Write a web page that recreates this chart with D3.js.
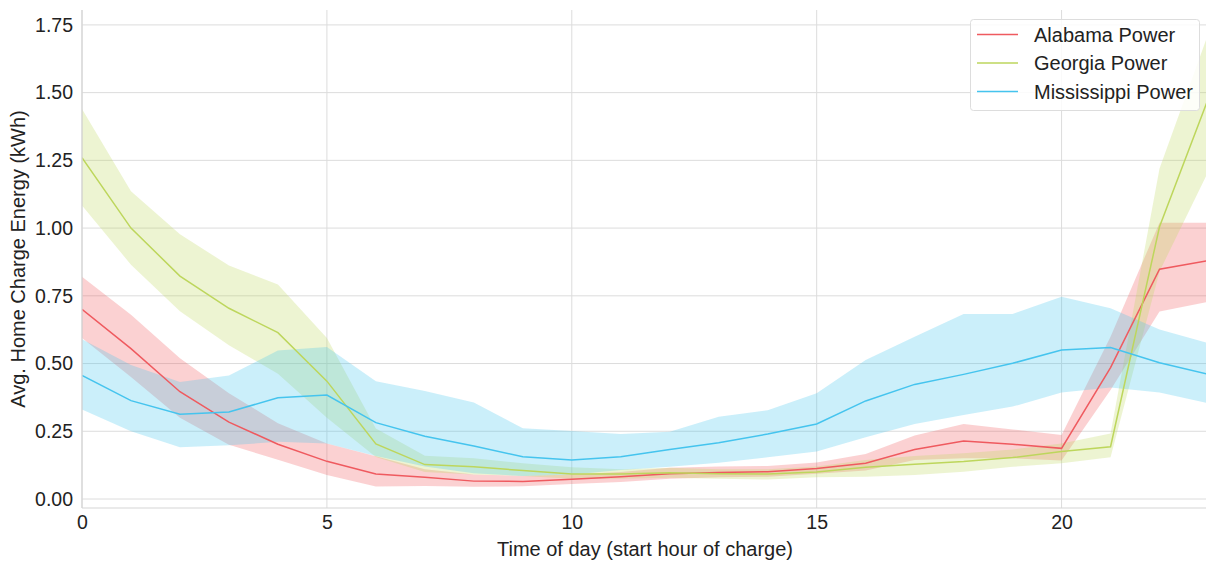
<!DOCTYPE html>
<html><head><meta charset="utf-8">
<script src="https://cdn.jsdelivr.net/npm/d3@7"></script>
<style>body{margin:0;background:#fff}svg{display:block}text{font-family:"Liberation Sans",Arial,sans-serif}</style>
</head><body><svg id="c" width="1206" height="561"></svg>
<script>
const hours = d3.range(0, 24);
const seriesNames = ["Alabama Power", "Georgia Power", "Mississippi Power"];
const alabamaMean  = [0.70,0.555,0.396,0.284,0.202,0.139,0.092,0.080,0.066,0.065,0.073,0.082,0.093,0.098,0.101,0.113,0.132,0.183,0.214,0.202,0.187,0.485,0.848,0.88];
const alabamaUpper = [0.82,0.68,0.52,0.39,0.28,0.205,0.158,0.11,0.09,0.085,0.09,0.10,0.115,0.12,0.122,0.135,0.166,0.234,0.277,0.257,0.236,0.599,1.02,1.02];
const alabamaLower = [0.594,0.45,0.30,0.20,0.145,0.089,0.046,0.048,0.045,0.047,0.055,0.063,0.075,0.08,0.082,0.093,0.105,0.144,0.150,0.150,0.142,0.402,0.692,0.728];
const georgiaMean  = [1.26,1.00,0.823,0.704,0.614,0.435,0.203,0.127,0.119,0.105,0.092,0.092,0.097,0.093,0.092,0.100,0.117,0.128,0.138,0.153,0.175,0.193,1.005,1.48];
const georgiaUpper = [1.44,1.136,0.977,0.862,0.792,0.594,0.26,0.16,0.15,0.132,0.117,0.11,0.115,0.11,0.11,0.12,0.144,0.159,0.169,0.183,0.205,0.242,1.22,1.72];
const georgiaLower = [1.083,0.865,0.693,0.568,0.462,0.300,0.155,0.10,0.09,0.085,0.075,0.075,0.078,0.075,0.072,0.08,0.082,0.089,0.101,0.119,0.132,0.154,0.84,1.21];
const missMean  = [0.456,0.363,0.313,0.321,0.374,0.384,0.282,0.232,0.196,0.156,0.144,0.156,0.183,0.208,0.240,0.277,0.362,0.423,0.460,0.501,0.550,0.559,0.503,0.460];
const missUpper = [0.59,0.495,0.432,0.456,0.548,0.561,0.435,0.399,0.356,0.261,0.251,0.240,0.248,0.304,0.328,0.39,0.513,0.599,0.683,0.683,0.747,0.704,0.626,0.575];
const missLower = [0.33,0.25,0.191,0.198,0.211,0.205,0.159,0.12,0.095,0.085,0.09,0.107,0.119,0.134,0.154,0.175,0.228,0.277,0.310,0.341,0.393,0.412,0.393,0.353];
const xTicks = [0, 5, 10, 15, 20];
const yTicks = [0, 0.25, 0.5, 0.75, 1.0, 1.25, 1.5, 1.75];
const colors = ["#ef5a5f", "#bdd65c", "#45c4ee"];

const series = [
  {name: seriesNames[0], mean: alabamaMean, upper: alabamaUpper, lower: alabamaLower, color: colors[0]},
  {name: seriesNames[1], mean: georgiaMean, upper: georgiaUpper, lower: georgiaLower, color: colors[1]},
  {name: seriesNames[2], mean: missMean, upper: missUpper, lower: missLower, color: colors[2]}
];

const svg = d3.select("#c");
const L = 82, R = 1208.5, T = 10, B = 508;
const FONT = '"Liberation Sans",Arial,sans-serif';
const x = d3.scaleLinear().domain([0, 23]).range([L, R]);
const y = d3.scaleLinear().domain([-0.0332, 1.805]).range([B, T]);

svg.append("defs").append("clipPath").attr("id","clip")
  .append("rect").attr("x",L).attr("y",T).attr("width",R-L).attr("height",B-T);

// grid
const grid = svg.append("g");
grid.selectAll(".gy").data(yTicks).join("line")
  .attr("x1",L).attr("x2",1206).attr("y1",d=>y(d)).attr("y2",d=>y(d))
  .attr("stroke","#dcdcdc").attr("stroke-width",1);
grid.selectAll(".gx").data(xTicks).join("line")
  .attr("y1",T).attr("y2",B).attr("x1",d=>x(d)).attr("x2",d=>x(d))
  .attr("stroke","#dcdcdc").attr("stroke-width",1);

// bands and lines
const plot = svg.append("g").attr("clip-path","url(#clip)");
const area = d3.area().x((d,i)=>x(hours[i])).y0(d=>y(d[0])).y1(d=>y(d[1]));
const line = d3.line().x((d,i)=>x(hours[i])).y(d=>y(d));
series.forEach(s=>{
  plot.append("path").datum(s.lower.map((v,i)=>[v, s.upper[i]]))
    .attr("d", area).attr("fill", s.color).attr("fill-opacity", 0.28).attr("stroke","none");
});
series.forEach(s=>{
  plot.append("path").datum(s.mean).attr("d", line)
    .attr("fill","none").attr("stroke", s.color).attr("stroke-width",1.5);
});

// spines
svg.append("line").attr("x1",L).attr("x2",L).attr("y1",T).attr("y2",B).attr("stroke","#d6d6d6").attr("stroke-width",1.2);
svg.append("line").attr("x1",L).attr("x2",1206).attr("y1",B).attr("y2",B).attr("stroke","#d6d6d6").attr("stroke-width",1.2);

// axes labels
const xAxis = d3.axisBottom(x).tickValues(xTicks).tickSize(0).tickPadding(7).tickFormat(d3.format("d"));
const gx = svg.append("g").attr("transform",`translate(0,${B})`).call(xAxis);
gx.select(".domain").remove();
gx.selectAll("text").attr("font-size",19.5).attr("fill","#222").attr("font-family",FONT);
const yAxis = d3.axisLeft(y).tickValues(yTicks).tickSize(0).tickPadding(9).tickFormat(d3.format(".2f"));
const gy = svg.append("g").attr("transform",`translate(${L},0)`).call(yAxis);
gy.select(".domain").remove();
gy.selectAll("text").attr("font-size",19.5).attr("fill","#222").attr("font-family",FONT);

svg.append("text").attr("x",645).attr("y",556).attr("text-anchor","middle")
  .attr("font-size",20).attr("fill","#222").text("Time of day (start hour of charge)");
svg.append("text").attr("transform",`translate(25,${(T+B)/2}) rotate(-90)`).attr("text-anchor","middle")
  .attr("font-size",20).attr("fill","#222").text("Avg. Home Charge Energy (kWh)");

// legend
const lg = svg.append("g");
lg.append("rect").attr("x",970.5).attr("y",19.5).attr("width",229).attr("height",91).attr("rx",3)
  .attr("fill","#fff").attr("fill-opacity",0.85).attr("stroke","#dddddd");
series.forEach((s,i)=>{
  const yy = 34.5 + i*28.5;
  lg.append("line").attr("x1",977).attr("x2",1018).attr("y1",yy).attr("y2",yy)
    .attr("stroke",s.color).attr("stroke-width",1.5);
  lg.append("text").attr("x",1034).attr("y",yy+7).attr("font-size",20).attr("fill","#222").text(s.name);
});
</script></body></html>
